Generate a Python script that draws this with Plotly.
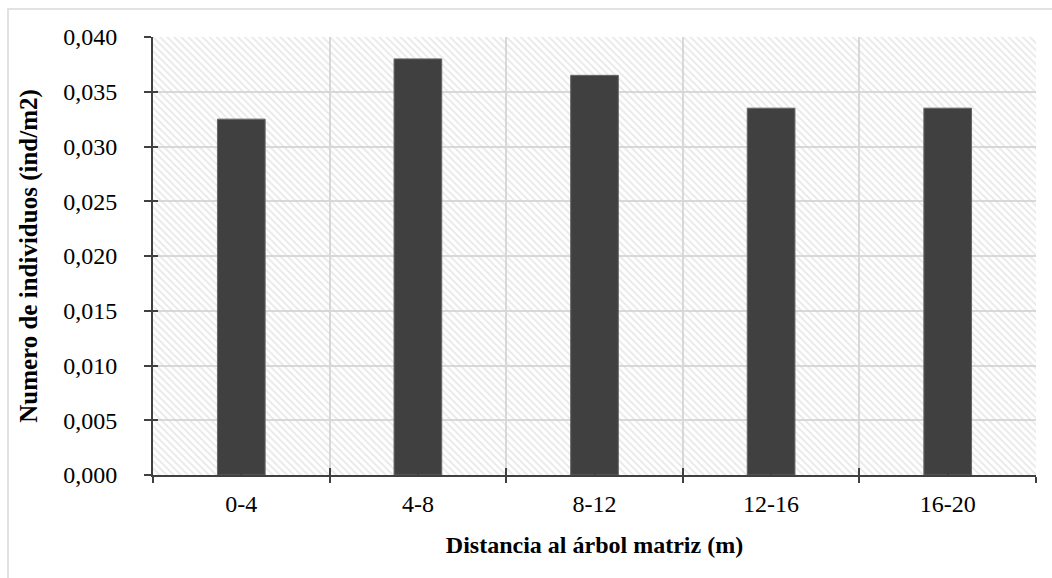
import plotly.graph_objects as go

# ---- data ----
categories = ["0-4", "4-8", "8-12", "12-16", "16-20"]
values = [0.0325, 0.0380, 0.0365, 0.0335, 0.0335]
y_range = [0.0, 0.040]
y_dtick = 0.005
x_title = "Distancia al árbol matriz (m)"
y_title = "Numero de individuos (ind/m2)"

idx = list(range(len(categories)))
x_range = [-0.5, len(categories) - 0.5]

FONT = "Liberation Serif"
DARK = "#404040"
GRID = "#d9d9d9"

W, H = 1052, 578
ML, MR, MT, MB = 153, 16, 37, 103

fig = go.Figure()

# hatched plot-area background (one full-width cell per category)
fig.add_trace(go.Bar(
    x=idx, y=[y_range[1]] * len(categories), width=1,
    marker=dict(color="rgba(0,0,0,0)", line=dict(width=0),
                pattern=dict(shape="\\", fgcolor="#d2d2d2",
                             bgcolor="rgba(0,0,0,0)", size=5, solidity=0.35)),
    hoverinfo="skip", showlegend=False, xaxis="x", yaxis="y",
))

# data bars
fig.add_trace(go.Bar(
    x=idx, y=values, width=0.27,
    marker=dict(color=DARK, line=dict(color="#666666", width=1)),
    showlegend=False, xaxis="x2", yaxis="y2",
))

fig.update_layout(
    width=W, height=H,
    margin=dict(l=ML, r=MR, t=MT, b=MB),
    paper_bgcolor="white", plot_bgcolor="white",
    separators=",.",
    barmode="overlay",
    font=dict(family=FONT, size=24, color="black"),
    xaxis=dict(
        range=x_range, tickmode="linear", tick0=-0.5, dtick=1,
        ticks="outside", ticklen=6, tickwidth=2, tickcolor=DARK,
        showticklabels=False,
        showgrid=True, gridcolor=GRID, gridwidth=2,
        showline=True, linecolor=DARK, linewidth=2, zeroline=False,
        fixedrange=True,
    ),
    xaxis2=dict(
        overlaying="x", anchor="y", side="bottom", range=x_range,
        tickmode="array", tickvals=idx, ticktext=categories,
        ticks="inside", ticklen=5, tickwidth=2, tickcolor=DARK,
        minor=dict(tickmode="linear", tick0=-0.5, dtick=1, ticks="inside",
                   ticklen=7, tickwidth=2, tickcolor=DARK, showgrid=False),
        tickfont=dict(family=FONT, size=24, color="black"),
        ticklabelstandoff=12,
        showgrid=False, showline=False, zeroline=False,
        title=dict(text="<b>" + x_title + "</b>",
                   font=dict(family=FONT, size=24, color="black"), standoff=20),
    ),
    yaxis=dict(
        range=y_range, tickmode="linear", tick0=0, dtick=y_dtick,
        tickformat=".3f",
        ticks="outside", ticklen=7, tickwidth=2, tickcolor=DARK,
        tickfont=dict(family=FONT, size=24, color="black"),
        ticklabelstandoff=22,
        showgrid=True, gridcolor=GRID, gridwidth=2,
        showline=True, linecolor=DARK, linewidth=2, zeroline=False,
        title=dict(text="<b>" + y_title + "</b>",
                   font=dict(family=FONT, size=25, color="black"), standoff=18),
    ),
    yaxis2=dict(
        overlaying="y", anchor="x", side="left",
        range=y_range, tickmode="linear", tick0=0, dtick=y_dtick,
        ticks="inside", ticklen=5, tickwidth=2, tickcolor=DARK,
        showticklabels=False, showgrid=False, showline=False, zeroline=False,
    ),
)

# light outer chart border
pw, ph = W - ML - MR, H - MT - MB
fig.add_shape(type="rect", xref="paper", yref="paper",
              x0=(8 - ML) / pw, x1=(W + 20 - ML) / pw,
              y0=-(H + 20 - MT - ph) / ph, y1=(H - MB - 9) / ph,
              line=dict(color=GRID, width=1.5), fillcolor="rgba(0,0,0,0)",
              layer="below")

fig.write_html("out.html")
